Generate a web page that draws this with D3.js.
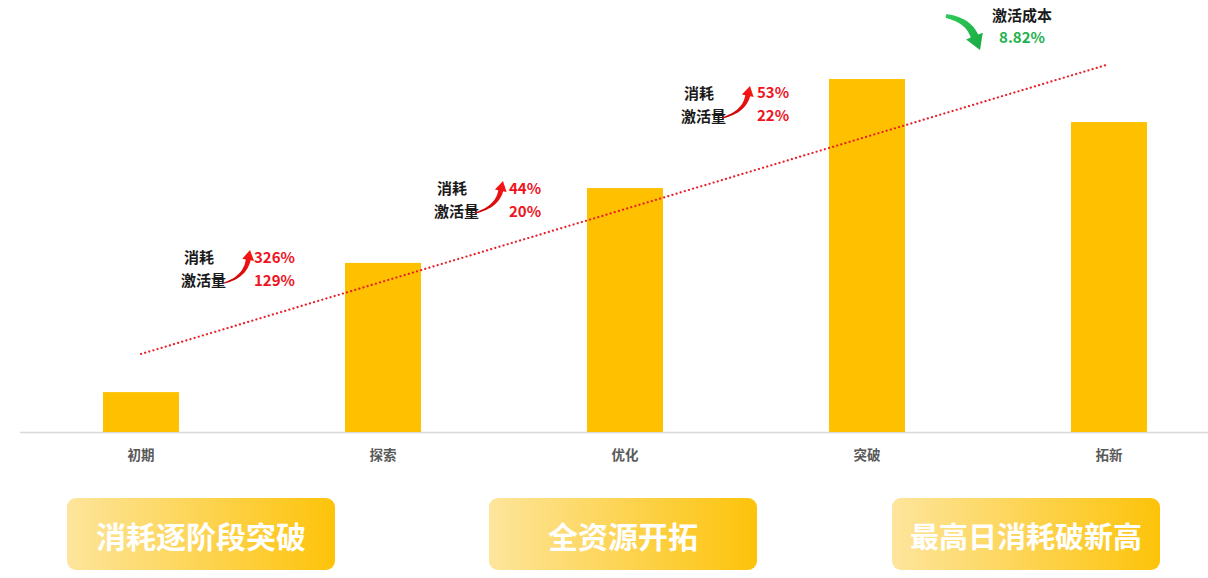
<!DOCTYPE html>
<html><head><meta charset="utf-8">
<script src="https://cdn.jsdelivr.net/npm/d3@7"></script>
<style>
html,body{margin:0;padding:0;background:#fff;}
svg{display:block;font-family:"Noto Sans CJK SC","Noto Sans",sans-serif;}
</style></head>
<body><svg id="c" width="1208" height="578"></svg>
<script>
const categories = ["初期","探索","优化","突破","拓新"];
const values = [11.3, 47.9, 69.1, 100, 87.8];
const trendStart = 22.1, trendEnd = 104.2;
const growthLabels = ["消耗","激活量"];
const growthValues = [["326%","129%"],["44%","20%"],["53%","22%"]];
const costLabel = "激活成本";
const costValue = "8.82%";
const banners = ["消耗逐阶段突破","全资源开拓","最高日消耗破新高"];

const svg = d3.select("#c");
const x = d3.scaleBand().domain(categories).range([20,1230]).paddingInner(0.686).paddingOuter(0.343);
const y = d3.scaleLinear().domain([0,100]).range([432,79]);

const defs = svg.append("defs");
const g = defs.append("linearGradient").attr("id","bg").attr("x1","0").attr("x2","1").attr("y1","0").attr("y2","0");
g.append("stop").attr("offset","0").attr("stop-color","#fde59c");
g.append("stop").attr("offset","1").attr("stop-color","#fdc30a");
const rg = defs.append("linearGradient").attr("id","rg").attr("x1","0").attr("x2","1").attr("y1","1").attr("y2","0");
rg.append("stop").attr("offset","0").attr("stop-color","#c00000");
rg.append("stop").attr("offset","1").attr("stop-color","#ff1a1a");
const gg = defs.append("linearGradient").attr("id","gg").attr("x1","0").attr("x2","1").attr("y1","0").attr("y2","1");
gg.append("stop").attr("offset","0").attr("stop-color","#2ecc5a");
gg.append("stop").attr("offset","1").attr("stop-color","#1aa843");

// axis line
svg.append("line").attr("x1",20).attr("x2",1208).attr("y1",y(0)+0.5).attr("y2",y(0)+0.5)
  .attr("stroke","#d9d9d9").attr("stroke-width",1.5);

// bars
svg.selectAll("rect.bar").data(values).join("rect").attr("class","bar")
  .attr("x",(d,i)=>x(categories[i])).attr("width",x.bandwidth())
  .attr("y",d=>y(d)).attr("height",d=>y(0)-y(d)).attr("fill","#ffc000");

// category labels
svg.selectAll("text.cat").data(categories).join("text").attr("class","cat")
  .attr("x",d=>x(d)+x.bandwidth()/2).attr("y",460).attr("text-anchor","middle")
  .attr("font-size",13.5).attr("font-weight",700).attr("fill","#595959").text(d=>d);

// trend line
const cx = c => x(c)+x.bandwidth()/2;
svg.append("line").attr("x1",cx(categories[0])).attr("y1",y(trendStart))
  .attr("x2",cx(categories[4])).attr("y2",y(trendEnd))
  .attr("stroke","#e8202a").attr("stroke-width",2.2).attr("stroke-dasharray","0.1 4.2")
  .attr("stroke-linecap","round");

// tapered curved arrow
function arrow(x0,y0,cxp,cyp,x1,y1,fill,w0,w1,hw,hl){
  const tx = x1-cxp, ty = y1-cyp, L=Math.hypot(tx,ty), ux=tx/L, uy=ty/L;
  const bx = x1-ux*hl, by = y1-uy*hl;
  // curve from (x0,y0) ctrl (cxp,cyp) to (bx,by)
  const N=20, left=[], right=[];
  for(let i=0;i<=N;i++){
    const t=i/N, mt=1-t;
    const px=mt*mt*x0+2*mt*t*cxp+t*t*bx, py=mt*mt*y0+2*mt*t*cyp+t*t*by;
    const dx=2*mt*(cxp-x0)+2*t*(bx-cxp), dy=2*mt*(cyp-y0)+2*t*(by-cyp);
    const l=Math.hypot(dx,dy), nx=-dy/l, ny=dx/l;
    const w=(w0+(w1-w0)*t)/2;
    left.push([px+nx*w,py+ny*w]); right.push([px-nx*w,py-ny*w]);
  }
  const nx=-uy, ny=ux;
  const pts=[...left, [bx+nx*hw,by+ny*hw],[x1,y1],[bx-nx*hw,by-ny*hw], ...right.reverse()];
  svg.append("path").attr("d","M"+pts.map(p=>p[0].toFixed(1)+","+p[1].toFixed(1)).join("L")+"Z").attr("fill",fill);
}

const annos = [
  {lx:226, ly:257, nx:254, ny:257, a:[224,283,245,277,250,250]},
  {lx:479, ly:188, nx:509, ny:188, a:[475,213,497,207,503,181]},
  {lx:726, ly:93,  nx:757, ny:92,  a:[722,118,744,112,750,86]}
];
annos.forEach((a,i)=>{
  svg.append("text").attr("x",a.lx-12).attr("y",a.ly+6).attr("text-anchor","end")
    .attr("font-size",15).attr("font-weight",700).attr("fill","#1a1a1a").text(growthLabels[0]);
  svg.append("text").attr("x",a.lx).attr("y",a.ly+29).attr("text-anchor","end")
    .attr("font-size",15).attr("font-weight",700).attr("fill","#1a1a1a").text(growthLabels[1]);
  svg.append("text").attr("x",a.nx).attr("y",a.ny+6)
    .attr("font-size",15).attr("font-weight",700).attr("fill","#f0141e").text(growthValues[i][0]);
  svg.append("text").attr("x",a.nx).attr("y",a.ny+29)
    .attr("font-size",15).attr("font-weight",700).attr("fill","#f0141e").text(growthValues[i][1]);
  const p=a.a;
  arrow(p[0],p[1],p[2],p[3],p[4],p[5],"url(#rg)",1.2,5,6,10);
});

// green cost arrow
arrow(946,16,968,20,980,50,"url(#gg)",4,8,9,15);
svg.append("text").attr("x",1022).attr("y",21).attr("text-anchor","middle")
  .attr("font-size",15).attr("font-weight",700).attr("fill","#1a1a1a").text(costLabel);
svg.append("text").attr("x",1022).attr("y",43).attr("text-anchor","middle")
  .attr("font-size",15).attr("font-weight",700).attr("fill","#22b14c").text(costValue);

// banners
const bx = [67,489,892];
banners.forEach((t,i)=>{
  svg.append("rect").attr("x",bx[i]).attr("y",498).attr("width",268).attr("height",72)
    .attr("rx",9).attr("fill","url(#bg)");
  svg.append("text").attr("x",bx[i]+134).attr("y",548).attr("text-anchor","middle")
    .attr("font-size",i===2?29:30).attr("font-weight",700).attr("fill","#fff").text(t);
});
</script></body></html>
